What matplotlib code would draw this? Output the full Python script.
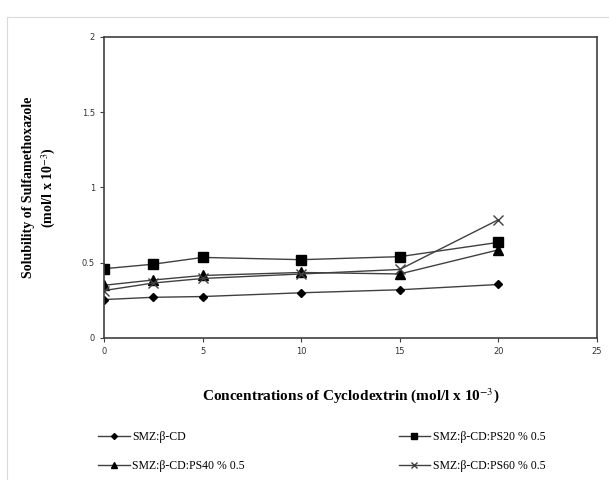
import matplotlib
matplotlib.use("Agg")
import matplotlib.pyplot as plt
from matplotlib.patches import Rectangle

# concentrations of cyclodextrin (mol/l x 10^-3)
conc = [0, 2.5, 5, 10, 15, 20]

# solubility of sulfamethoxazole (mol/l x 10^-3)
smz_bcd = [0.255, 0.27, 0.275, 0.30, 0.32, 0.355]
smz_ps20 = [0.46, 0.49, 0.535, 0.52, 0.54, 0.635]
smz_ps40 = [0.35, 0.385, 0.415, 0.435, 0.425, 0.585]
smz_ps60 = [0.315, 0.365, 0.395, 0.425, 0.455, 0.785]

labels = ["SMZ:β-CD", "SMZ:β-CD:PS20 % 0.5",
          "SMZ:β-CD:PS40 % 0.5", "SMZ:β-CD:PS60 % 0.5"]

plt.rcParams["mathtext.fontset"] = "stix"

fig = plt.figure(figsize=(6.09, 4.8), dpi=100)
ax = fig.add_axes([0.171, 0.296, 0.809, 0.627])

# light chart-area border like the excel original
fig.patches.append(Rectangle((0.012, -0.01), 1.0, 0.975, transform=fig.transFigure,
                             fill=False, edgecolor="#d9d9d9", linewidth=0.8))

line_col = "#404040"
ax.plot(conc, smz_bcd, color=line_col, lw=1, marker="D", ms=4,
        mfc="black", mec="black", label=labels[0])
ax.plot(conc, smz_ps20, color=line_col, lw=1, marker="s", ms=6.5,
        mfc="black", mec="black", label=labels[1])
ax.plot(conc, smz_ps40, color=line_col, lw=1, marker="^", ms=6.5,
        mfc="black", mec="black", label=labels[2])
ax.plot(conc, smz_ps60, color=line_col, lw=1, marker="x", ms=6.5,
        mfc="black", mec=line_col, mew=1, label=labels[3])

ax.set_xlim(0, 25)
ax.set_ylim(0, 2)
ax.set_xticks([0, 5, 10, 15, 20, 25])
ax.set_yticks([0, 0.5, 1, 1.5, 2])
ax.set_yticklabels(["0", "0.5", "1", "1.5", "2"])
ax.tick_params(direction="out", length=3, width=0.8, labelsize=6, colors="#404040",
               labelcolor="#333333")
for s in ax.spines.values():
    s.set_color("#404040")
    s.set_linewidth(1.2)

serif = "Liberation Serif"
ax.set_xlabel("Concentrations of Cyclodextrin (mol/l x 10$^{-3}$)",
              fontfamily=serif, fontweight="bold", fontsize=11, labelpad=22)
ax.set_ylabel("Solubility of Sulfamethoxazole\n(mol/l x 10$^{-3}$)",
              fontfamily=serif, fontweight="bold", fontsize=10, labelpad=17,
              linespacing=1.4)

# legend filled row by row, like the original
h, l = ax.get_legend_handles_labels()
order = [0, 2, 1, 3]
fig.legend([h[i] for i in order], [l[i] for i in order],
           loc="lower left", bbox_to_anchor=(0.143, -0.005, 0.77, 0.12),
           mode="expand", ncol=2, frameon=False,
           prop={"family": serif, "size": 8.5}, handlelength=2.7,
           handletextpad=0.2, labelspacing=1.4, markerscale=0.75)

fig.savefig("out.png", dpi=100)
